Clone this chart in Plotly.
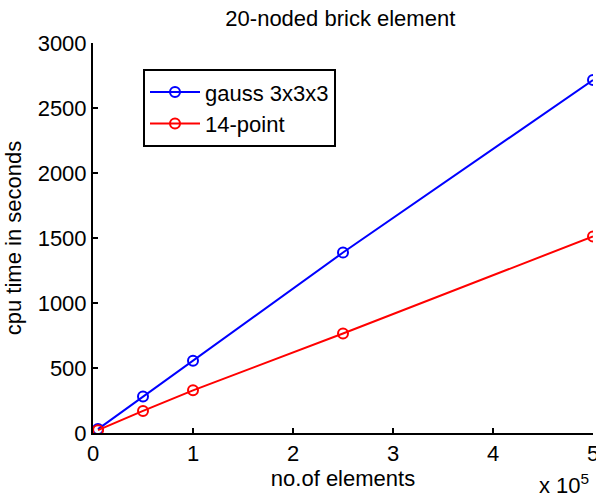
import plotly.graph_objects as go

elements = [5000, 50000, 100000, 250000, 500000]
gauss_time = [30, 280, 555, 1388, 2715]
point14_time = [22, 170, 328, 765, 1512]
x_ticks = [0, 100000, 200000, 300000, 400000, 500000]
x_tick_labels = ["0", "1", "2", "3", "4", "5"]
y_ticks = [0, 500, 1000, 1500, 2000, 2500, 3000]

font = "Liberation Sans, Arial, sans-serif"
fs = 22

fig = go.Figure()
fig.add_trace(go.Scatter(x=elements, y=gauss_time, mode="lines+markers", name="gauss 3x3x3",
                         line=dict(color="#0000ff", width=2),
                         marker=dict(symbol="circle-open", size=10, color="#0000ff", line=dict(width=2, color="#0000ff"))))
fig.add_trace(go.Scatter(x=elements, y=point14_time, mode="lines+markers", name="14-point",
                         line=dict(color="#ff0000", width=2),
                         marker=dict(symbol="circle-open", size=10, color="#ff0000", line=dict(width=2, color="#ff0000"))))

fig.update_layout(
    width=596, height=496,
    margin=dict(l=93, r=3, t=43, b=63, autoexpand=False),
    paper_bgcolor="white", plot_bgcolor="white",
    font=dict(family=font, size=fs, color="black"),
    title=dict(text="20-noded brick element", x=0.571, xanchor="center", y=0.963, yanchor="middle",
               font=dict(size=fs)),
    showlegend=True,
    legend=dict(x=0.1, y=0.933, xanchor="left", yanchor="top", bordercolor="black", borderwidth=2,
                bgcolor="white", font=dict(size=fs), tracegroupgap=0, itemwidth=50),
    xaxis=dict(range=[0, 500000], tickvals=x_ticks, ticktext=x_tick_labels, ticks="inside", ticklen=5,
               tickwidth=2, tickcolor="black", showline=True, linecolor="black", linewidth=2,
               showgrid=False, zeroline=False, automargin=False, ticklabeloverflow="allow",
               title=dict(text="no.of elements", font=dict(size=fs), standoff=5)),
    yaxis=dict(range=[0, 3000], tickvals=y_ticks, ticks="inside", ticklen=5, tickwidth=2, tickcolor="black",
               showline=True, linecolor="black", linewidth=2, showgrid=False, zeroline=False, automargin=False,
               ticklabeloverflow="allow",
               title=dict(text="cpu time in seconds", font=dict(size=fs), standoff=10)),
)
fig.add_annotation(text="x 10<sup>5</sup>", xref="paper", yref="paper", x=0.995, y=-0.172,
                   xanchor="right", yanchor="bottom", showarrow=False, font=dict(size=fs))

fig.write_html("out.html", config={"displayModeBar": False},
               post_script="document.body.style.margin='0px';")
